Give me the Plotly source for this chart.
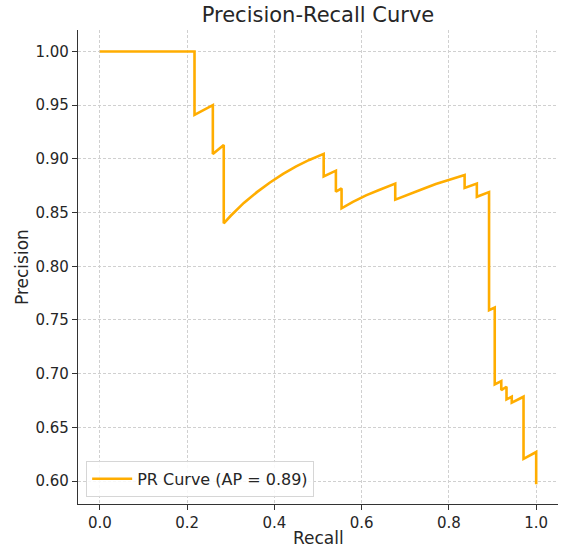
import plotly.graph_objects as go

recall = [0.0, 0.217, 0.217, 0.259, 0.259, 0.284, 0.284, 0.30, 0.33, 0.36, 0.39,
          0.42, 0.45, 0.48, 0.513, 0.513, 0.541, 0.541, 0.554, 0.554, 0.58, 0.61,
          0.64, 0.677, 0.677, 0.71, 0.74, 0.77, 0.80, 0.836, 0.836, 0.864, 0.864,
          0.892, 0.892, 0.905, 0.905, 0.920, 0.920, 0.932, 0.932, 0.944, 0.944,
          0.971, 0.971, 1.0, 1.0]
precision = [1.0, 1.0, 0.941, 0.950, 0.9046, 0.913, 0.840, 0.847, 0.859, 0.869, 0.878,
             0.886, 0.893, 0.899, 0.9046, 0.8837, 0.889, 0.8694, 0.8725, 0.854, 0.860, 0.866,
             0.871, 0.877, 0.862, 0.8675, 0.872, 0.8766, 0.8807, 0.885, 0.873, 0.877, 0.8647,
             0.869, 0.759, 0.7615, 0.690, 0.6931, 0.6847, 0.6878, 0.676, 0.6785, 0.673,
             0.6785, 0.6206, 0.627, 0.597]

ap = 0.89
x_ticks = [0.0, 0.2, 0.4, 0.6, 0.8, 1.0]
y_ticks = [0.60, 0.65, 0.70, 0.75, 0.80, 0.85, 0.90, 0.95, 1.00]

FONT = "DejaVu Sans"
TXT = "#262626"

W, H = 568, 552
ML, MR, MT, MB = 78, 10, 29.5, 48
PW, PH = W - ML - MR, H - MT - MB

fig = go.Figure()
fig.add_trace(go.Scatter(
    x=recall, y=precision, mode="lines",
    line=dict(color="#FFAD00", width=2.6),
    name=f"PR Curve (AP = {ap:.2f})",
))

axis_common = dict(
    showgrid=True, gridcolor="#d0d0d0", griddash="3px,2px", gridwidth=1,
    zeroline=False, showline=True, linecolor="#333333", linewidth=1.2,
    ticks="outside", ticklen=5, tickwidth=1.2, tickcolor="#333333",
    tickfont=dict(family=FONT, size=15, color=TXT),
    mirror=False, automargin=False,
)

fig.update_layout(
    width=W, height=H,
    margin=dict(l=ML, r=MR, t=MT, b=MB),
    paper_bgcolor="white", plot_bgcolor="white",
    font=dict(family=FONT, color=TXT),
    title=dict(text="Precision-Recall Curve", x=318/W, xanchor="center",
               y=1 - 15/H, yanchor="middle",
               font=dict(family=FONT, size=21, color=TXT)),
    xaxis=dict(range=[-0.05, 1.05], tickvals=x_ticks,
               ticktext=[f"{v:.1f}" for v in x_ticks], **axis_common),
    yaxis=dict(range=[0.5786, 1.0200], tickvals=y_ticks,
               ticktext=[f"{v:.2f}" for v in y_ticks], **axis_common),
    legend=dict(x=0.017, y=0.015, xanchor="left", yanchor="bottom",
                bgcolor="rgba(255,255,255,0.85)", bordercolor="#d6d6d6", borderwidth=1,
                itemwidth=40,
                font=dict(family=FONT, size=16, color=TXT)),
    showlegend=True,
    annotations=[
        dict(text="Recall", xref="paper", yref="paper", x=0.5, y=-(538 - (H - MB)) / PH,
             xanchor="center", yanchor="middle", showarrow=False,
             font=dict(family=FONT, size=17, color=TXT)),
        dict(text="Precision", xref="paper", yref="paper", x=(22 - ML) / PW, y=0.5,
             xanchor="center", yanchor="middle", showarrow=False, textangle=-90,
             font=dict(family=FONT, size=17, color=TXT)),
    ],
)

fig.write_html("out.html")
